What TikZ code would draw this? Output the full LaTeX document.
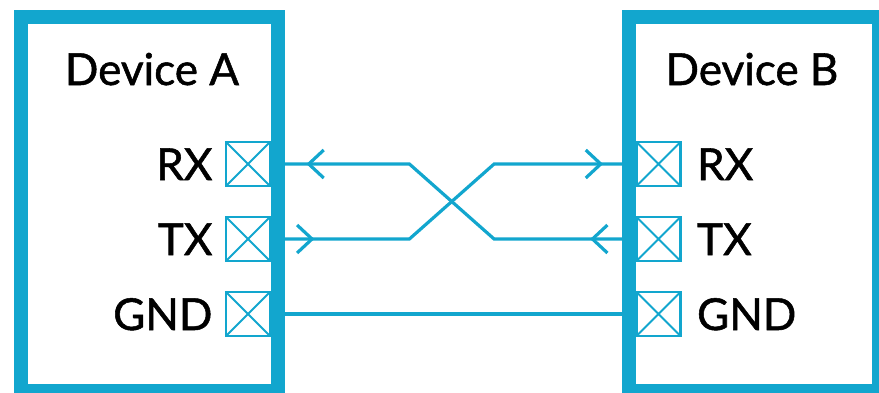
\documentclass[tikz,border=0pt]{standalone}
\usepackage{fontspec}
\newfontfamily\labelfont{Lato}[FakeBold=1.2]
\usetikzlibrary{arrows.meta,decorations.markings,positioning}
\definecolor{uartblue}{RGB}{18,166,206}
\tikzset{
  devbox/.style={draw=uartblue, line width=14pt, inner sep=0pt},
  port/.style={draw=uartblue, line width=2.8pt, minimum size=44pt, inner sep=0pt,
    path picture={\draw[uartblue, line width=2pt]
      (path picture bounding box.north west) -- (path picture bounding box.south east)
      (path picture bounding box.south west) -- (path picture bounding box.north east);}},
  devlabel/.style={font=\labelfont\fontsize{44}{44}\selectfont, inner sep=0pt},
  wire/.style={draw=uartblue, line width=3.2pt},
  twotips/.style 2 args={postaction={decorate}, decoration={markings,
    mark=at position #1 with {\arrow[line width=3.2pt]{Straight Barb[length=15pt,width=28pt]}},
    mark=at position #2 with {\arrow[line width=3.2pt]{Straight Barb[length=15pt,width=28pt]}}}},
}
\begin{document}
\begin{tikzpicture}[x=1pt, y=-1pt]
    \useasboundingbox (0,0) rectangle (879,392);
    \clip (0,0) rectangle (879,392);

    % Geräte
    \node[devbox, minimum width=257pt, minimum height=374pt] (devA) at (149.5,204) {};
    \node[devbox, minimum width=250pt, minimum height=374pt] (devB) at (754,204) {};
    \node[devlabel, anchor=base] (devA-name) at (152,85) {Device A};
    \node[devlabel, anchor=base] (devB-name) at (752,85) {Device B};

    % Anschlüsse
    \node[port] (a-rx) at (248,164) {};
    \node[port] (a-tx) at (248,239) {};
    \node[port] (a-gnd) at (248,314) {};
    \node[port] (b-rx) at (658.5,164) {};
    \node[port] (b-tx) at (658.5,239) {};
    \node[port] (b-gnd) at (658.5,314) {};

    \node[devlabel, anchor=base east] (a-rx-lbl) at ([xshift=-12pt, yshift=-16pt]a-rx.west) {RX};
    \node[devlabel, anchor=base east] (a-tx-lbl) at ([xshift=-12pt, yshift=-16pt]a-tx.west) {TX};
    \node[devlabel, anchor=base east] (a-gnd-lbl) at ([xshift=-12pt, yshift=-16pt]a-gnd.west) {GND};
    \node[devlabel, anchor=base west] (b-rx-lbl) at ([xshift=15pt, yshift=-16pt]b-rx.east) {RX};
    \node[devlabel, anchor=base west] (b-tx-lbl) at ([xshift=15pt, yshift=-16pt]b-tx.east) {TX};
    \node[devlabel, anchor=base west] (b-gnd-lbl) at ([xshift=15pt, yshift=-16pt]b-gnd.east) {GND};

    % Leitungen (gekreuzt)
    \draw[wire, twotips={45pt}{-35pt}] (b-tx.west) -- ++(-141,0)
        -- ([xshift=138pt]a-rx.east) -- (a-rx.east);
    \draw[wire, twotips={43pt}{-32pt}] (a-tx.east) -- ++(138,0)
        -- ([xshift=-141pt]b-rx.west) -- (b-rx.west);
    \draw[wire] (a-gnd.east) -- (b-gnd.west);

\end{tikzpicture}
\end{document}
